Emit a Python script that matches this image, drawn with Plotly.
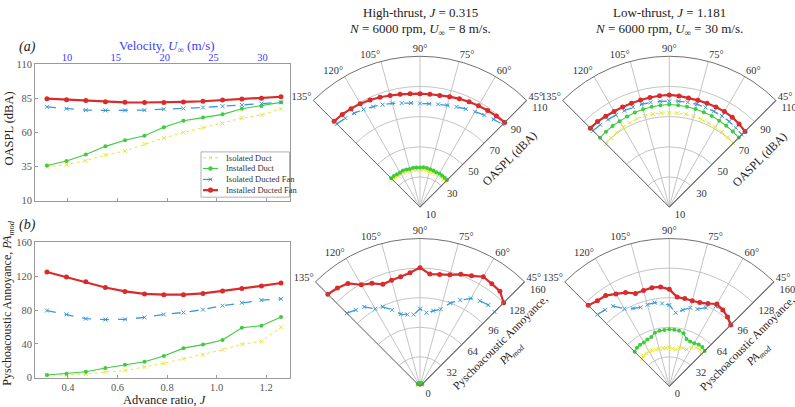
import plotly.graph_objects as go

# ---------------- data ----------------
J = [0.315, 0.394, 0.472, 0.551, 0.630, 0.709, 0.787, 0.866, 0.945, 1.024, 1.102, 1.181, 1.260]
U = [8, 10, 12, 14, 16, 18, 20, 22, 24, 26, 28, 30, 32]

oaspl_iso_duct = [34.8, 36.4, 39.3, 43.4, 46.4, 51.4, 55.9, 60.0, 63.4, 66.6, 70.5, 72.9, 77.4]
oaspl_inst_duct = [35.7, 39.1, 43.8, 49.8, 54.3, 57.6, 63.8, 68.6, 70.9, 73.3, 77.4, 79.5, 82.1]
oaspl_iso_fan = [78.8, 77.4, 76.4, 76.2, 76.2, 76.4, 77.1, 77.6, 78.3, 79.3, 80.2, 81.2, 82.1]
oaspl_inst_fan = [84.8, 84.1, 83.4, 82.6, 82.1, 82.0, 82.0, 82.4, 82.9, 83.8, 84.5, 85.2, 86.2]

pa_iso_duct = [2.7, 3.1, 4.2, 6.5, 8.4, 12.7, 16.9, 22.3, 27.2, 33.0, 39.5, 43.0, 59.5]
pa_inst_duct = [3.1, 4.6, 6.9, 11.5, 15.3, 18.8, 25.7, 34.9, 39.1, 44.5, 59.0, 61.4, 71.7]
pa_iso_fan = [79.4, 74.8, 69.8, 68.7, 69.0, 71.3, 74.8, 77.1, 80.5, 85.1, 88.6, 91.7, 93.2]
pa_inst_fan = [125.0, 119.0, 113.5, 106.6, 102.0, 99.0, 98.2, 98.2, 99.7, 102.4, 105.5, 108.5, 112.0]

theta = [135, 130, 125, 120, 115, 110, 105, 100, 95, 90, 85, 80, 75, 70, 65, 60, 55, 50, 45]

hi_oaspl_inst_fan = [90.5, 90.2, 89.7, 89.2, 88.4, 87.5, 86.6, 85.9, 85.4, 85.2, 85.1, 85.2, 85.8, 86.4, 87.0, 87.6, 88.2, 88.8, 89.4]
hi_oaspl_iso_fan = [88.0, 87.0, 86.0, 84.8, 83.5, 82.3, 81.2, 80.0, 79.2, 78.7, 78.8, 79.2, 79.8, 80.7, 81.8, 83.0, 84.5, 86.0, 87.5]
hi_oaspl_inst_duct = [37.0, 37.0, 36.6, 36.5, 36.8, 36.5, 36.2, 36.5, 36.3, 36.2, 36.5, 36.3, 36.0, 35.8, 35.5, 35.7, 35.5, 35.5, 35.3]
hi_oaspl_iso_duct = [35.2, 35.5, 35.3, 35.0, 35.3, 35.0, 34.8, 35.0, 34.8, 34.8, 35.0, 34.8, 34.5, 34.3, 34.2, 34.3, 34.0, 34.0, 33.8]

lo_oaspl_inst_fan = [84.0, 84.0, 83.5, 83.2, 83.2, 83.3, 83.5, 83.8, 84.1, 84.4, 84.0, 83.4, 83.3, 83.2, 83.2, 83.1, 82.8, 82.0, 81.0]
lo_oaspl_iso_fan = [81.5, 81.2, 80.8, 80.6, 80.5, 80.5, 80.6, 80.5, 80.4, 80.2, 80.5, 80.5, 80.6, 80.3, 80.0, 79.8, 79.3, 78.6, 78.0]
lo_oaspl_inst_duct = [75.0, 75.3, 75.6, 75.8, 76.2, 76.8, 77.2, 77.5, 77.8, 78.0, 77.8, 77.6, 77.3, 77.0, 76.6, 76.2, 75.8, 75.5, 75.2]
lo_oaspl_iso_duct = [69.0, 69.8, 70.5, 71.2, 71.8, 72.3, 72.6, 72.6, 72.5, 72.4, 72.6, 72.5, 72.3, 72.0, 71.6, 71.2, 70.8, 70.4, 70.0]

hi_pa_inst_fan = [141, 139, 136, 127, 123, 117.5, 119, 120.5, 123.5, 128.5, 122, 123, 125, 129, 132, 137, 135.5, 134.5, 128]
hi_pa_iso_fan = [112, 108, 105, 97, 95, 88, 81, 79, 78, 84, 80, 83, 86.5, 96, 103, 110, 113, 115, 114]
hi_pa_inst_duct = [3.5] * 19
hi_pa_iso_duct = [2.8] * 19

lo_pa_inst_fan = [124, 121, 120, 115.5, 112, 107, 107.5, 108.5, 108, 105, 97, 96.5, 96, 96.5, 99, 103, 101, 98, 94]
lo_pa_iso_fan = [110, 108, 106, 97, 93, 91, 91.5, 92, 90, 88, 80, 84, 88, 89, 94, 100, 101.5, 98, 95]
lo_pa_inst_duct = [53, 54.5, 55, 55, 56, 57, 60, 61, 61.2, 61.8, 61.5, 61, 59.5, 54.5, 53.5, 54, 55.5, 55.5, 54]
lo_pa_iso_duct = [42, 43.5, 43.5, 43.5, 43, 42.5, 42.3, 42, 41.5, 42.5, 41, 40.5, 43.5, 44, 44, 48, 51, 51.5, 49]

series_names = ["Isolated Duct", "Installed Duct", "Isolated Ducted Fan", "Installed Ducted Fan"]
oaspl_ticks = [10, 35, 60, 85, 110]
pa_ticks = [0, 40, 80, 120, 160]
vel_ticks = [10, 15, 20, 25, 30]
j_ticks = [0.4, 0.6, 0.8, 1.0, 1.2]
ang_ticks = [45, 60, 75, 90, 105, 120, 135]

# ---------------- styles ----------------
W, H = 795, 407
SERIF = "Liberation Serif"
YEL, GRN, BLU, RED = "#e6e63c", "#3ccc3c", "#3a9ad9", "#d92b2b"
STY = {
    "Isolated Duct": dict(line=dict(color=YEL, width=1, dash="dot"), marker=dict(symbol="x-thin", size=4, line=dict(color=YEL, width=1))),
    "Installed Duct": dict(line=dict(color=GRN, width=1.1), marker=dict(symbol="circle", size=4, color=GRN)),
    "Isolated Ducted Fan": dict(line=dict(color=BLU, width=1.3, dash="dash"), marker=dict(symbol="x-thin", size=4, line=dict(color=BLU, width=1))),
    "Installed Ducted Fan": dict(line=dict(color=RED, width=2.2), marker=dict(symbol="circle", size=5, color=RED)),
}


def px(x):
    return x / W


def py(y):
    return 1 - y / H


fig = go.Figure()

left_sets = [
    ("x", "y", [oaspl_iso_duct, oaspl_inst_duct, oaspl_iso_fan, oaspl_inst_fan]),
    ("x2", "y2", [pa_iso_duct, pa_inst_duct, pa_iso_fan, pa_inst_fan]),
]
for xa, ya, vals in left_sets:
    for name, v in zip(series_names, vals):
        s = STY[name]
        fig.add_trace(go.Scatter(x=J, y=v, xaxis=xa, yaxis=ya, mode="lines+markers", name=name,
                                 line=s["line"], marker=s["marker"], showlegend=False))

# invisible trace to carry the velocity axis
fig.add_trace(go.Scatter(x=U, y=oaspl_inst_fan, xaxis="x3", yaxis="y", mode="lines",
                         line=dict(width=0, color="rgba(0,0,0,0)"), hoverinfo="skip", showlegend=False))

polar_sets = [
    ("polar", [hi_oaspl_iso_duct, hi_oaspl_inst_duct, hi_oaspl_iso_fan, hi_oaspl_inst_fan]),
    ("polar2", [lo_oaspl_iso_duct, lo_oaspl_inst_duct, lo_oaspl_iso_fan, lo_oaspl_inst_fan]),
    ("polar3", [hi_pa_iso_duct, hi_pa_inst_duct, hi_pa_iso_fan, hi_pa_inst_fan]),
    ("polar4", [lo_pa_iso_duct, lo_pa_inst_duct, lo_pa_iso_fan, lo_pa_inst_fan]),
]
for sp, vals in polar_sets:
    for name, v in zip(series_names, vals):
        s = STY[name]
        fig.add_trace(go.Scatterpolar(r=v, theta=theta, subplot=sp, mode="lines+markers", name=name,
                                      line=s["line"], marker=s["marker"], showlegend=False))

AX = dict(showline=True, mirror=True, linecolor="#9a9a9a", linewidth=1, ticks="inside", ticklen=3,
          tickcolor="#9a9a9a", showgrid=False, zeroline=False,
          tickfont=dict(family=SERIF, size=10.5, color="#555"))

XL = [35, 290]
J_RANGE = [0.2668, 1.2963]
U_RANGE = [6.725, 32.82]


def polar_cfg(cx, cy, R, rng, rticks):
    hw = R * 0.70711
    return dict(
        domain=dict(x=[px(cx - hw), px(cx + hw)], y=[py(cy), py(cy - R)]),
        sector=[45, 135],
        bgcolor="white",
        radialaxis=dict(range=rng, tickvals=rticks, angle=45, side="clockwise", showline=True, tickangle=45,
                        linecolor="#707070", linewidth=1, gridcolor="#c4c4c4", gridwidth=0.8, ticks="",
                        tickfont=dict(family=SERIF, size=10.5, color="#333")),
        angularaxis=dict(tickvals=ang_ticks, ticktext=[f"{a}°" for a in ang_ticks], direction="counterclockwise",
                         rotation=0, showline=True, linecolor="#707070", linewidth=1, gridcolor="#c4c4c4",
                         gridwidth=0.8, ticks="", tickfont=dict(family=SERIF, size=10.5, color="#333")),
    )


fig.update_layout(
    width=W, height=H, margin=dict(l=0, r=0, t=0, b=0), paper_bgcolor="white", plot_bgcolor="white",
    font=dict(family=SERIF, color="#333"),
    xaxis=dict(AX, domain=[px(XL[0]), px(XL[1])], anchor="y", range=J_RANGE, tickvals=j_ticks, showticklabels=False),
    yaxis=dict(AX, domain=[py(201), py(61)], anchor="x", range=[10, 110], tickvals=oaspl_ticks),
    xaxis2=dict(AX, domain=[px(XL[0]), px(XL[1])], anchor="y2", range=J_RANGE, tickvals=j_ticks,
                tickformat=".1f"),
    yaxis2=dict(AX, domain=[py(383), py(244)], anchor="x2", range=[0, 160], tickvals=pa_ticks),
    xaxis3=dict(overlaying="x", side="top", anchor="y", range=U_RANGE, tickvals=vel_ticks, showline=False,
                ticks="", showgrid=False, zeroline=False,
                tickfont=dict(family=SERIF, size=10.5, color="#3b3bff")),
    polar=polar_cfg(420, 207.7, 155, [10, 110], [10, 30, 50, 70, 90, 110]),
    polar2=polar_cfg(669.3, 207.7, 155, [10, 110], [10, 30, 50, 70, 90, 110]),
    polar3=polar_cfg(420, 392, 152, [0, 160], [0, 32, 64, 96, 128, 160]),
    polar4=polar_cfg(669.3, 392, 152, [0, 160], [0, 32, 64, 96, 128, 160]),
)

ann = []


def add_text(x, y, text, size=13, color="#222", angle=0, xanchor="center", yanchor="middle"):
    ann.append(dict(x=px(x), y=py(y), xref="paper", yref="paper", text=text, showarrow=False,
                    textangle=angle, xanchor=xanchor, yanchor=yanchor,
                    font=dict(family=SERIF, size=size, color=color)))


add_text(27, 43, "<i>(a)</i>", 14)
add_text(27, 226, "<i>(b)</i>", 14)
add_text(167, 43, "Velocity, <i>U</i><sub>∞</sub> (m/s)", 13, "#3b3bff")
add_text(9, 127, "OASPL (dBA)", 12.5, angle=-90)
add_text(8, 307, "Pyschoacoustic Annoyance, <i>PA</i><sub><i>mod</i></sub>", 12, angle=-90)
add_text(165, 406, "Advance ratio, <i>J</i>", 12.5)
add_text(420, 8, "High-thrust, <i>J</i> = 0.315", 13)
add_text(420, 25, "<i>N</i> = 6000 rpm, <i>U</i><sub>∞</sub> = 8 m/s.", 13)
add_text(669, 8, "Low-thrust, <i>J</i> = 1.181", 13)
add_text(669, 25, "<i>N</i> = 6000 rpm, <i>U</i><sub>∞</sub> = 30 m/s.", 13)
add_text(509, 158, "OASPL (dBA)", 12, angle=-45)
add_text(759, 159, "OASPL (dBA)", 12, angle=-45)
add_text(506, 353, "Pyschoacoustic Annoyance,<br><i>PA</i><sub><i>mod</i></sub>", 11.5, angle=-45)
add_text(753, 354, "Pyschoacoustic Annoyance,<br><i>PA</i><sub><i>mod</i></sub>", 11.5, angle=-45)

# custom compact legend
shapes = [dict(type="rect", xref="paper", yref="paper", x0=px(201), x1=px(289.5), y0=py(197.5), y1=py(151),
               line=dict(color="#b0b0b0", width=1), fillcolor="white", layer="above")]
rows = [157, 168, 179.3, 190.3]
for name, yy in zip(series_names, rows):
    s = STY[name]
    col = s["line"]["color"]
    shapes.append(dict(type="line", xref="paper", yref="paper", x0=px(203), x1=px(218), y0=py(yy), y1=py(yy),
                       line=dict(color=col, width=s["line"]["width"], dash=s["line"].get("dash", "solid")),
                       layer="above"))
    cx = 210.5
    if s["marker"]["symbol"] == "circle":
        r = s["marker"]["size"] / 2
        shapes.append(dict(type="circle", xref="paper", yref="paper", x0=px(cx - r), x1=px(cx + r),
                           y0=py(yy + r), y1=py(yy - r), fillcolor=col, line=dict(color=col, width=0.5),
                           layer="above"))
    else:
        d = 1.8
        for sgn in (1, -1):
            shapes.append(dict(type="line", xref="paper", yref="paper", x0=px(cx - d), x1=px(cx + d),
                               y0=py(yy - sgn * d), y1=py(yy + sgn * d), line=dict(color=col, width=1),
                               layer="above"))
    add_text(224, yy, name, 8.5, "#333", xanchor="left")

fig.update_layout(annotations=ann, shapes=shapes)
fig.write_html("out.html")
